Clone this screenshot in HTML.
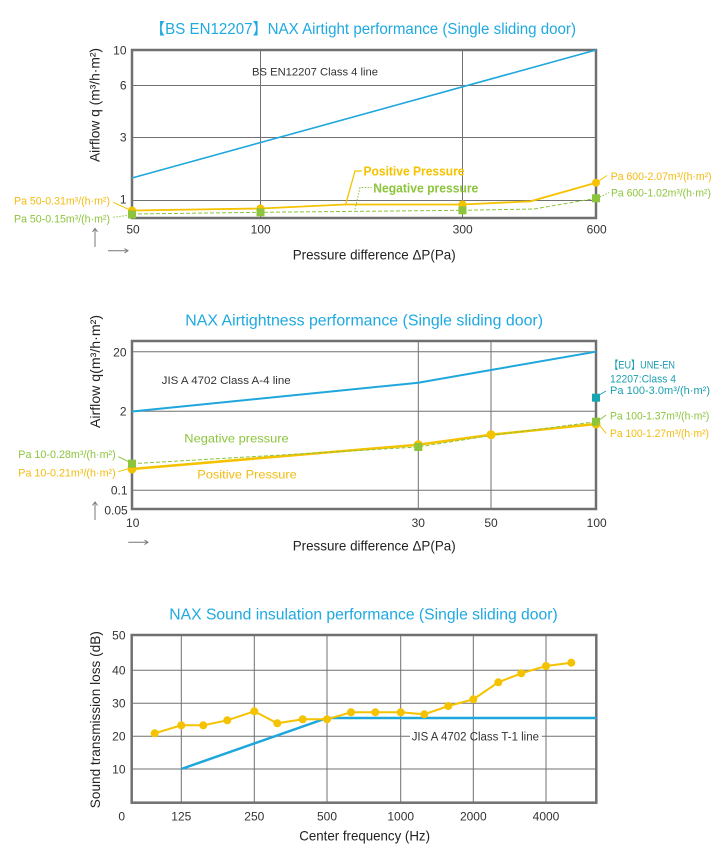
<!DOCTYPE html>
<html><head><meta charset="utf-8">
<style>
html,body{margin:0;padding:0;background:#fff;}
svg{display:block;}
text{font-family:"Liberation Sans","Noto Sans CJK JP",sans-serif;}
</style></head>
<body>
<svg width="728" height="860" viewBox="0 0 728 860" xmlns="http://www.w3.org/2000/svg">
<rect width="728" height="860" fill="#fff"/>

<!-- ============ CHART 1 ============ -->
<text x="150" y="34" font-size="15.5" fill="#1fa9e1" textLength="426" lengthAdjust="spacingAndGlyphs">【BS EN12207】NAX Airtight performance (Single sliding door)</text>

<g stroke="#707070" stroke-width="1" fill="none">
<line x1="260.5" y1="50" x2="260.5" y2="218"/>
<line x1="462.5" y1="50" x2="462.5" y2="218"/>
<line x1="132" y1="85.5" x2="596" y2="85.5"/>
<line x1="132" y1="137.5" x2="596" y2="137.5"/>
<line x1="132" y1="200.5" x2="596" y2="200.5"/>
</g>
<rect x="132" y="50" width="464" height="168" fill="none" stroke="#707070" stroke-width="2.5"/>

<line x1="132" y1="178" x2="596" y2="50" stroke="#1ea7dc" stroke-width="1.6"/>
<polyline points="132,214 260.5,212.3 462.5,210.3 534,209 596,198.3" fill="none" stroke="#8cc43c" stroke-width="1" stroke-dasharray="4,2"/>
<polyline points="132,210.5 260.5,208.5 345,204.5 462.5,204.5 530.5,201.3 596,182.7" fill="none" stroke="#f5c200" stroke-width="1.8"/>
<g fill="#f5c200">
<circle cx="132" cy="210.5" r="4"/><circle cx="260.5" cy="208.5" r="4"/><circle cx="462.5" cy="204.5" r="4"/><circle cx="596" cy="182.7" r="4"/>
</g>
<g fill="#8cc43c">
<rect x="128" y="210.5" width="8" height="8"/><rect x="256.5" y="208.3" width="8" height="8"/><rect x="458.5" y="206.3" width="8" height="8"/><rect x="592" y="194.3" width="8" height="8"/>
</g>

<text x="252" y="75.7" font-size="11" fill="#333" textLength="126" lengthAdjust="spacingAndGlyphs">BS EN12207 Class 4 line</text>

<!-- inner leaders -->
<polyline points="345.7,204.3 355,171 361.7,171" fill="none" stroke="#f5c200" stroke-width="1.3"/>
<polyline points="355,209.3 360,187.5 371.7,187.5" fill="none" stroke="#8cc43c" stroke-width="1" stroke-dasharray="1.5,1.5"/>
<text x="363.5" y="175.7" font-size="13" font-weight="bold" fill="#f5c200" textLength="101" lengthAdjust="spacingAndGlyphs">Positive Pressure</text>
<text x="373.3" y="192.7" font-size="13" font-weight="bold" fill="#8cc43c" textLength="105" lengthAdjust="spacingAndGlyphs">Negative pressure</text>

<!-- left annotations -->
<line x1="113.3" y1="202.3" x2="130" y2="210" stroke="#f5c200" stroke-width="1"/>
<line x1="113.3" y1="217.3" x2="130" y2="215" stroke="#8cc43c" stroke-width="1" stroke-dasharray="1.5,1.5"/>
<text x="14" y="204.3" font-size="11" fill="#f3bb10" textLength="96" lengthAdjust="spacingAndGlyphs">Pa 50-0.31m³/(h·m²)</text>
<text x="14" y="222.3" font-size="11" fill="#8cc43c" textLength="96" lengthAdjust="spacingAndGlyphs">Pa 50-0.15m³/(h·m²)</text>

<!-- right annotations -->
<line x1="598" y1="181.5" x2="607" y2="175.5" stroke="#f5c200" stroke-width="1"/>
<line x1="600" y1="197" x2="609" y2="192.5" stroke="#8cc43c" stroke-width="1" stroke-dasharray="1.5,1.5"/>
<text x="610.7" y="180" font-size="11" fill="#f3bb10" textLength="101" lengthAdjust="spacingAndGlyphs">Pa 600-2.07m³/(h·m²)</text>
<text x="611" y="196.7" font-size="11" fill="#8cc43c" textLength="100" lengthAdjust="spacingAndGlyphs">Pa 600-1.02m³/(h·m²)</text>

<!-- ticks -->
<g font-size="12" fill="#333" text-anchor="end">
<text x="126.5" y="54.3">10</text>
<text x="126.5" y="89.5">6</text>
<text x="126.5" y="141.5">3</text>
<text x="126.5" y="203.5">1</text>
</g>
<g font-size="12" fill="#333" text-anchor="middle">
<text x="133" y="233.5">50</text>
<text x="260.7" y="233.5">100</text>
<text x="462.7" y="233.5">300</text>
<text x="596.7" y="233.5">600</text>
</g>
<text x="292.7" y="259.7" font-size="14" fill="#222" textLength="163" lengthAdjust="spacingAndGlyphs">Pressure difference ΔP(Pa)</text>
<text transform="translate(99.5,105) rotate(-90)" text-anchor="middle" font-size="14" fill="#222" textLength="114" lengthAdjust="spacingAndGlyphs">Airflow q (m³/h·m²)</text>

<!-- arrows -->
<g stroke="#777" stroke-width="1" fill="none">
<line x1="95" y1="247" x2="95" y2="229"/><polyline points="92.5,232 95,228.5 97.5,232"/>
<line x1="108" y1="250.7" x2="127.5" y2="250.7"/><polyline points="124.5,248.5 128,250.7 124.5,253"/>
</g>

<!-- ============ CHART 2 ============ -->
<text x="185.3" y="325.7" font-size="15.5" fill="#1fa9e1" textLength="357.7" lengthAdjust="spacingAndGlyphs">NAX Airtightness performance (Single sliding door)</text>

<g stroke="#707070" stroke-width="1" fill="none">
<line x1="418.3" y1="341" x2="418.3" y2="509"/>
<line x1="491" y1="341" x2="491" y2="509"/>
<line x1="132" y1="351.7" x2="596" y2="351.7"/>
<line x1="132" y1="411.3" x2="596" y2="411.3"/>
<line x1="132" y1="490.3" x2="596" y2="490.3"/>
</g>
<rect x="132" y="341" width="464" height="168" fill="none" stroke="#707070" stroke-width="2.5"/>

<polyline points="132,411.5 418.3,382.7 491,370 596,351.7" fill="none" stroke="#1ea7dc" stroke-width="2"/>
<polyline points="132,469 418.3,444.7 491,434.7 596,424" fill="none" stroke="#f5c200" stroke-width="2.5"/>
<polyline points="132,463.7 418.3,447 491,435.5 596,421.7" fill="none" stroke="#8cc43c" stroke-width="1" stroke-dasharray="4,2"/>
<g fill="#f5c200">
<circle cx="132" cy="469" r="4.5"/><circle cx="418.3" cy="444.7" r="4.5"/><circle cx="491" cy="434.7" r="4.5"/><circle cx="596" cy="424" r="4.5"/>
</g>
<g fill="#8cc43c">
<rect x="128" y="459.7" width="8" height="8"/><rect x="414.3" y="443" width="8" height="8"/><rect x="592" y="417.7" width="8" height="8"/>
</g>
<rect x="592" y="393.7" width="8" height="8" fill="#17a5b3"/>

<text x="161.7" y="384" font-size="11" fill="#333" textLength="129" lengthAdjust="spacingAndGlyphs">JIS A 4702 Class A-4 line</text>
<text x="184.3" y="442.7" font-size="12" fill="#8cc43c" textLength="104.4" lengthAdjust="spacingAndGlyphs">Negative pressure</text>
<text x="197.3" y="478.3" font-size="12" fill="#f3bb10" textLength="99.4" lengthAdjust="spacingAndGlyphs">Positive Pressure</text>

<line x1="118.3" y1="456.7" x2="130" y2="462.3" stroke="#8cc43c" stroke-width="1"/>
<line x1="118.3" y1="471.7" x2="130" y2="468.3" stroke="#f5c200" stroke-width="1"/>
<text x="18.3" y="458" font-size="11" fill="#8cc43c" textLength="97.4" lengthAdjust="spacingAndGlyphs">Pa 10-0.28m³/(h·m²)</text>
<text x="18.3" y="476.7" font-size="11" fill="#f3bb10" textLength="97.4" lengthAdjust="spacingAndGlyphs">Pa 10-0.21m³/(h·m²)</text>

<line x1="598.3" y1="395.5" x2="606" y2="391" stroke="#17a5b3" stroke-width="1"/>
<line x1="598" y1="421" x2="606" y2="415" stroke="#8cc43c" stroke-width="1"/>
<line x1="598" y1="423.3" x2="606" y2="433.3" stroke="#f5c200" stroke-width="1"/>
<g font-size="11" fill="#1a9fb0">
<text x="609.3" y="368.3" textLength="65.7" lengthAdjust="spacingAndGlyphs">【EU】UNE-EN</text>
<text x="610" y="382.3" textLength="66" lengthAdjust="spacingAndGlyphs">12207:Class 4</text>
<text x="610" y="394" textLength="100" lengthAdjust="spacingAndGlyphs">Pa 100-3.0m³/(h·m²)</text>
</g>
<text x="610" y="419.5" font-size="11" fill="#8cc43c" textLength="99.3" lengthAdjust="spacingAndGlyphs">Pa 100-1.37m³/(h·m²)</text>
<text x="610" y="437" font-size="11" fill="#f3bb10" textLength="99" lengthAdjust="spacingAndGlyphs">Pa 100-1.27m³/(h·m²)</text>

<g font-size="12" fill="#333" text-anchor="end">
<text x="126.5" y="356.5">20</text>
<text x="126.5" y="415.5">2</text>
<text x="127.5" y="494.5">0.1</text>
<text x="127.7" y="514.5">0.05</text>
</g>
<g font-size="12" fill="#333" text-anchor="middle">
<text x="132.7" y="527">10</text>
<text x="418.3" y="527">30</text>
<text x="491" y="527">50</text>
<text x="596.7" y="527">100</text>
</g>
<text x="292.7" y="550.7" font-size="14" fill="#222" textLength="163" lengthAdjust="spacingAndGlyphs">Pressure difference ΔP(Pa)</text>
<text transform="translate(100,371.5) rotate(-90)" text-anchor="middle" font-size="14" fill="#222" textLength="113" lengthAdjust="spacingAndGlyphs">Airflow q(m³/h·m²)</text>

<g stroke="#777" stroke-width="1" fill="none">
<line x1="95" y1="520" x2="95" y2="502.5"/><polyline points="92.5,505.5 95,502 97.5,505.5"/>
<line x1="128.3" y1="542.3" x2="147.5" y2="542.3"/><polyline points="144.5,540 148,542.3 144.5,544.6"/>
</g>

<!-- ============ CHART 3 ============ -->
<text x="169.3" y="619.3" font-size="15.5" fill="#1fa9e1" textLength="388.4" lengthAdjust="spacingAndGlyphs">NAX Sound insulation performance (Single sliding door)</text>

<g stroke="#707070" stroke-width="1" fill="none">
<line x1="181.3" y1="635" x2="181.3" y2="802.7"/>
<line x1="254.3" y1="635" x2="254.3" y2="802.7"/>
<line x1="327" y1="635" x2="327" y2="802.7"/>
<line x1="400.7" y1="635" x2="400.7" y2="802.7"/>
<line x1="473.3" y1="635" x2="473.3" y2="802.7"/>
<line x1="546" y1="635" x2="546" y2="802.7"/>
<line x1="131.7" y1="670.3" x2="596.3" y2="670.3"/>
<line x1="131.7" y1="703.3" x2="596.3" y2="703.3"/>
<line x1="131.7" y1="736.3" x2="410" y2="736.3"/>
<line x1="541.7" y1="736.3" x2="596.3" y2="736.3"/>
<line x1="131.7" y1="769" x2="596.3" y2="769"/>
</g>
<rect x="131.7" y="635" width="464.6" height="167.7" fill="none" stroke="#707070" stroke-width="2.5"/>

<polyline points="181.3,769 327,718 596.3,718" fill="none" stroke="#1ea7dc" stroke-width="2.5"/>
<text x="411.7" y="740.3" font-size="11.5" fill="#333" textLength="127.3" lengthAdjust="spacingAndGlyphs">JIS A 4702 Class T-1 line</text>

<polyline points="154.7,733.3 181.3,725.3 203.3,725.3 227.3,720.3 254.3,711.3 277.3,723.3 302.7,719.3 327,719.3 351,712.3 375.3,712.3 400.7,712.3 424.3,714.3 448.3,706 473.3,699.3 498.3,682.3 521.3,673.3 546,666 571.3,662.7" fill="none" stroke="#f5c200" stroke-width="2"/>
<g fill="#f5c200">
<circle cx="154.7" cy="733.3" r="4"/><circle cx="181.3" cy="725.3" r="4"/><circle cx="203.3" cy="725.3" r="4"/><circle cx="227.3" cy="720.3" r="4"/><circle cx="254.3" cy="711.3" r="4"/><circle cx="277.3" cy="723.3" r="4"/><circle cx="302.7" cy="719.3" r="4"/><circle cx="327" cy="719.3" r="4"/><circle cx="351" cy="712.3" r="4"/><circle cx="375.3" cy="712.3" r="4"/><circle cx="400.7" cy="712.3" r="4"/><circle cx="424.3" cy="714.3" r="4"/><circle cx="448.3" cy="706" r="4"/><circle cx="473.3" cy="699.3" r="4"/><circle cx="498.3" cy="682.3" r="4"/><circle cx="521.3" cy="673.3" r="4"/><circle cx="546" cy="666" r="4"/><circle cx="571.3" cy="662.7" r="4"/>
</g>

<g font-size="12" fill="#333" text-anchor="end">
<text x="125.5" y="639.3">50</text>
<text x="125.5" y="674.5">40</text>
<text x="125.5" y="707.5">30</text>
<text x="125.5" y="740.5">20</text>
<text x="125.5" y="773.3">10</text>
</g>
<g font-size="12" fill="#333" text-anchor="middle">
<text x="121.7" y="820.3">0</text>
<text x="181.3" y="820.3">125</text>
<text x="254.3" y="820.3">250</text>
<text x="327" y="820.3">500</text>
<text x="400.7" y="820.3">1000</text>
<text x="473.3" y="820.3">2000</text>
<text x="546" y="820.3">4000</text>
</g>
<text x="299.3" y="840.7" font-size="14" fill="#222" textLength="130.7" lengthAdjust="spacingAndGlyphs">Center frequency (Hz)</text>
<text transform="translate(100,719.7) rotate(-90)" text-anchor="middle" font-size="14" fill="#222" textLength="177" lengthAdjust="spacingAndGlyphs">Sound transmission loss (dB)</text>
</svg>
</body></html>
